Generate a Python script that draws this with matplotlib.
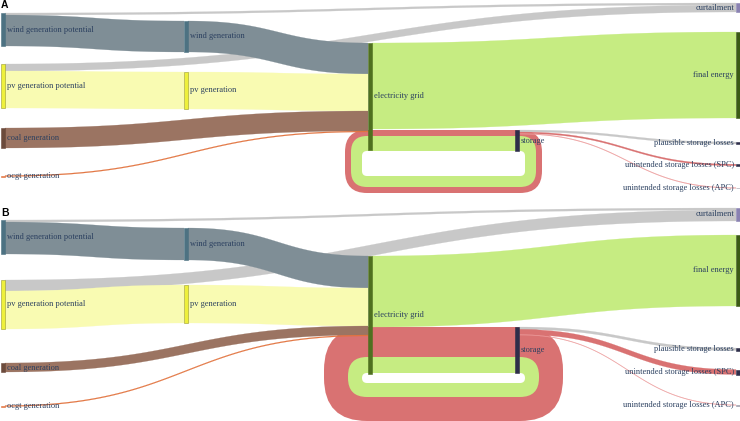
import matplotlib
matplotlib.use("Agg")
import matplotlib.pyplot as plt
from matplotlib.patches import Polygon, FancyBboxPatch, Rectangle
import numpy as np

# ---------------- data ----------------
node_keys = ["wind_pot", "pv_pot", "coal", "ocgt", "wind_gen", "pv_gen", "grid", "storage",
             "curt", "final", "pl", "spc", "apc"]
node_labels = ["wind generation potential", "pv generation potential", "coal generation",
               "ocgt generation", "wind generation", "pv generation", "electricity grid",
               "storage", "curtailment", "final energy", "plausible storage losses",
               "unintended storage losses (SPC)", "unintended storage losses (APC)"]

link_source = ["wind_pot", "wind_pot", "pv_pot", "pv_pot", "wind_gen", "pv_gen", "coal", "ocgt",
               "grid", "grid", "grid", "storage", "storage", "storage", "storage", "storage"]
link_target = ["curt", "wind_gen", "curt", "pv_gen", "grid", "grid", "grid", "grid",
               "final", "storage", "storage", "pl", "spc", "apc", "grid", "grid"]
link_kind = ["curt", "wind", "curt", "pv", "wind", "pv", "coal", "ocgt",
             "green", "red", "green", "curt", "red", "lightred", "red", "green"]

# flow values (panel A: plausible case, panel B: unintended storage cycling)
values_A = [2, 31, 7, 37, 31, 37, 20, 1, 86, 6, 15, 2, 1.5, 0.7, 6, 11]
values_B = [2, 32, 11, 38, 32, 38, 9, 1, 71, 30, 16, 2.5, 5, 0.6, 24, 14]

# ---------------- layout / style ----------------
col_x = {"wind_pot": 1, "pv_pot": 1, "coal": 1, "ocgt": 1, "wind_gen": 184, "pv_gen": 184,
         "grid": 368, "storage": 515, "curt": 736, "final": 736, "pl": 736, "spc": 736, "apc": 736}
top_A = {"wind_pot": 13, "pv_pot": 64, "coal": 128, "ocgt": 175.5, "wind_gen": 21, "pv_gen": 72,
         "grid": 43, "storage": 130, "curt": 3, "final": 32, "pl": 142, "spc": 164.2, "apc": 187.6}
top_B = {"wind_pot": 220, "pv_pot": 280, "coal": 363, "ocgt": 405.5, "wind_gen": 228, "pv_gen": 285,
         "grid": 256, "storage": 327, "curt": 208, "final": 235, "pl": 348, "spc": 369.5, "apc": 404.7}
hole_A, hole_B = 25, 10
NW = 4  # node width px

link_col = {"curt": "#c8c8c8", "wind": "#7f8e96", "pv": "#f9fbb2", "coal": "#9b7462",
            "ocgt": "#e2733e", "green": "#c6ec82", "red": "#d97272", "lightred": "#ec9a9a"}
node_col = {"wind_pot": "#4d7282", "pv_pot": "#eef03c", "coal": "#6c4b3c", "ocgt": "#e2733e",
            "wind_gen": "#4d7282", "pv_gen": "#eef03c", "grid": "#4f7020", "storage": "#2e2e4a",
            "curt": "#8a82b2", "final": "#3b5a14", "pl": "#2e2e4a", "spc": "#2e2e4a", "apc": "#9a9aa8"}
TXT = "#2a3f5f"

fig = plt.figure(figsize=(7.40, 4.21), dpi=100)
ax = fig.add_axes([0, 0, 1, 1])
ax.set_xlim(0, 740)
ax.set_ylim(421, 0)
ax.axis("off")


def bez(x0, y0, x1, y1, n=80):
    t = np.linspace(0, 1, n)
    xm = (x0 + x1) / 2
    x = (1 - t) ** 3 * x0 + 3 * (1 - t) ** 2 * t * xm + 3 * (1 - t) * t ** 2 * xm + t ** 3 * x1
    y = (1 - t) ** 3 * y0 + 3 * (1 - t) ** 2 * t * y0 + 3 * (1 - t) * t ** 2 * y1 + t ** 3 * y1
    return x, y


def ribbon(x0, y0, x1, y1, w, color, z):
    xt, yt = bez(x0, y0, x1, y1)
    xb, yb = bez(x0, y0 + w, x1, y1 + w)
    poly = np.column_stack([np.r_[xt, xb[::-1]], np.r_[yt, yb[::-1]]])
    ax.add_patch(Polygon(poly, closed=True, fc=color, ec=color, lw=0.15, zorder=z))


def rrect(l, t, r, b, rad, color, z):
    rad = min(rad, (r - l) / 2, (b - t) / 2)
    ax.add_patch(FancyBboxPatch((l, t), r - l, b - t,
                                boxstyle=f"round,pad=0,rounding_size={rad}",
                                fc=color, ec="none", zorder=z))


def panel(values, tops, hole, letter, letter_y):
    scale = 1.0
    circular = [i for i in range(len(values))
                if col_x[link_source[i]] >= col_x[link_target[i]]]
    # node heights
    h = {}
    for k in node_keys:
        vin = sum(values[i] for i in range(len(values)) if link_target[i] == k)
        vout = sum(values[i] for i in range(len(values)) if link_source[i] == k)
        h[k] = max(vin, vout) * scale

    # circular storage loops (rounded rings)
    gx, sx = col_x["grid"], col_x["storage"]
    ytop = tops["storage"]
    fwd = [i for i in range(len(values)) if link_source[i] == "grid" and link_target[i] == "storage"]
    f_r, f_g = [values[i] * scale for i in fwd]
    t_r, t_g = [values[i] * scale for i in circular]
    wl, wr = gx - 6, sx + NW + 6
    wt = ytop + f_r + f_g
    wb = wt + hole
    r0 = 5
    rrect(wl - t_g - t_r, ytop, wr + t_g + t_r, wb + t_g + t_r, r0 + t_g + t_r, link_col["red"], 1)
    rrect(wl - t_g, ytop + f_r, wr + t_g, wb + t_g, r0 + t_g, link_col["green"], 1.1)
    rrect(wl, wt, wr, wb, r0, "white", 1.2)

    # forward links
    out_off = {k: tops[k] for k in node_keys}
    in_off = {k: tops[k] for k in node_keys}
    order = [i for i in range(len(values)) if i not in circular]
    geo = {}
    for i in order:
        s, t = link_source[i], link_target[i]
        w = values[i] * scale
        geo[i] = (col_x[s] + NW, out_off[s], col_x[t], in_off[t], w)
        out_off[s] += w
        in_off[t] += w
    # draw gray curtailment first, then the rest
    for i in sorted(order, key=lambda j: 0 if link_kind[j] == "curt" and link_source[j] != "storage" else 1):
        x0, y0, x1, y1, w = geo[i]
        if i in fwd:
            continue  # already represented by the ring's top band
        ribbon(x0, y0, x1, y1, w, link_col[link_kind[i]], 2)

    # nodes
    for k, lab in zip(node_keys, node_labels):
        x, y, hh = col_x[k], tops[k], max(h[k], 0.8)
        ec = "#9a9a30" if k in ("pv_pot", "pv_gen") else node_col[k]
        ax.add_patch(Rectangle((x, y), NW, hh, fc=node_col[k], ec=ec, lw=0.4, zorder=3))
        cy = y + hh / 2
        if x >= 700:
            ax.text(x - 2, cy, lab, ha="right", va="center", fontsize=6.0,
                    family="Liberation Serif", color=TXT, zorder=4)
        else:
            ax.text(x + NW + 2, cy, lab, ha="left", va="center", fontsize=6.0,
                    family="Liberation Serif", color=TXT, zorder=4)

    ax.text(1, letter_y, letter, ha="left", va="top", fontsize=7.5, fontweight="bold",
            family="Liberation Sans", color="black", zorder=5)


panel(values_A, top_A, hole_A, "A", 0.5)
panel(values_B, top_B, hole_B, "B", 207.5)

fig.savefig("out.png", dpi=100)
